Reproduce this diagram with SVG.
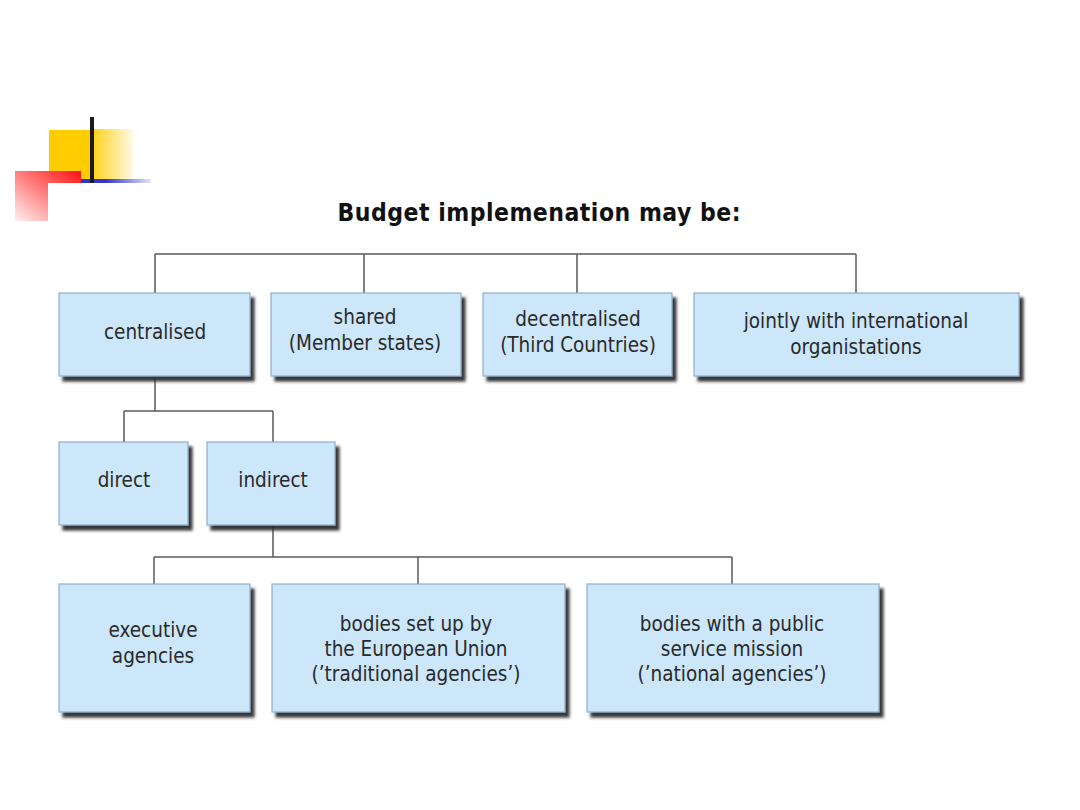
<svg xmlns="http://www.w3.org/2000/svg" width="1080" height="810" viewBox="0 0 1080 810">
<defs>
<filter id="sh" x="-10%" y="-10%" width="130%" height="130%">
<feDropShadow dx="4" dy="5" stdDeviation="1.8" flood-color="#2a2a2a" flood-opacity="0.95"/>
</filter>
<linearGradient id="yg" x1="0" y1="0" x2="1" y2="0">
<stop offset="0" stop-color="#ffd21a"/><stop offset="1" stop-color="#fffbe6"/>
</linearGradient>
<linearGradient id="rg" x1="1" y1="0" x2="0" y2="1">
<stop offset="0" stop-color="#ff1010"/><stop offset="1" stop-color="#fff0f0"/>
</linearGradient>
<linearGradient id="bg" x1="0" y1="0" x2="1" y2="0">
<stop offset="0" stop-color="#3030cc"/><stop offset="0.35" stop-color="#3535cc"/><stop offset="1" stop-color="#e4e4f6"/>
</linearGradient>
<style>
.box{fill:#cce6fa;stroke:#8eaecb;stroke-width:1.2;filter:url(#sh)}
.t{font-family:"DejaVu Sans Condensed","DejaVu Sans",sans-serif;font-size:20.5px;fill:#2a2a2a;text-anchor:middle}
.c{fill:none;stroke:#5a5a5a;stroke-width:1.5}
</style>
</defs>
<rect width="1080" height="810" fill="#fff"/>
<g id="decor">
<rect x="49" y="130" width="44" height="50" fill="#ffcc00"/>
<rect x="93" y="129" width="40" height="50" fill="url(#yg)"/>
<path d="M15 171 H81 V183 H48 V221 H15 Z" fill="url(#rg)"/>
<rect x="81" y="179" width="70" height="4" fill="url(#bg)"/>
<rect x="90" y="117" width="4" height="66" fill="#1a1a1a"/>
</g>
<text id="title" x="539" y="221" font-family="'DejaVu Sans Condensed','DejaVu Sans',sans-serif" font-weight="bold" font-size="24.5" fill="#111" text-anchor="middle" textLength="403">Budget implemenation may be:</text>
<g id="connectors">
<path class="c" d="M155 254 H856 M155 254 V293 M364 254 V293 M577 254 V293 M856 254 V293"/>
<path class="c" d="M155 376 V411 M124 411 H273 M124 411 V442 M273 411 V442"/>
<path class="c" d="M273 525 V557 M154 557 H732 M154 557 V584 M418 557 V584 M732 557 V584"/>
</g>
<g id="centralised"><rect class="box" x="59" y="293" width="191" height="83"/><text class="t" x="155" y="339">centralised</text></g>
<g id="shared"><rect class="box" x="271" y="293" width="190" height="83"/><text class="t" x="365" y="324">shared</text><text class="t" x="365" y="350">(Member states)</text></g>
<g id="decentralised"><rect class="box" x="483" y="293" width="189" height="83"/><text class="t" x="578" y="326">decentralised</text><text class="t" x="578" y="352">(Third Countries)</text></g>
<g id="jointly"><rect class="box" x="694" y="293" width="325" height="83"/><text class="t" x="856" y="328">jointly with international</text><text class="t" x="856" y="354">organistations</text></g>
<g id="direct"><rect class="box" x="59" y="442" width="129" height="83"/><text class="t" x="124" y="487">direct</text></g>
<g id="indirect"><rect class="box" x="207" y="442" width="128" height="83"/><text class="t" x="273" y="487">indirect</text></g>
<g id="executive"><rect class="box" x="59" y="584" width="191" height="128"/><text class="t" x="153" y="637">executive</text><text class="t" x="153" y="663">agencies</text></g>
<g id="bodies-eu"><rect class="box" x="272" y="584" width="293" height="128"/><text class="t" x="416" y="631">bodies set up by</text><text class="t" x="416" y="656">the European Union</text><text class="t" x="416" y="681">(’traditional agencies’)</text></g>
<g id="bodies-public"><rect class="box" x="587" y="584" width="292" height="128"/><text class="t" x="732" y="631">bodies with a public</text><text class="t" x="732" y="656">service mission</text><text class="t" x="732" y="681">(’national agencies’)</text></g>
</svg>
